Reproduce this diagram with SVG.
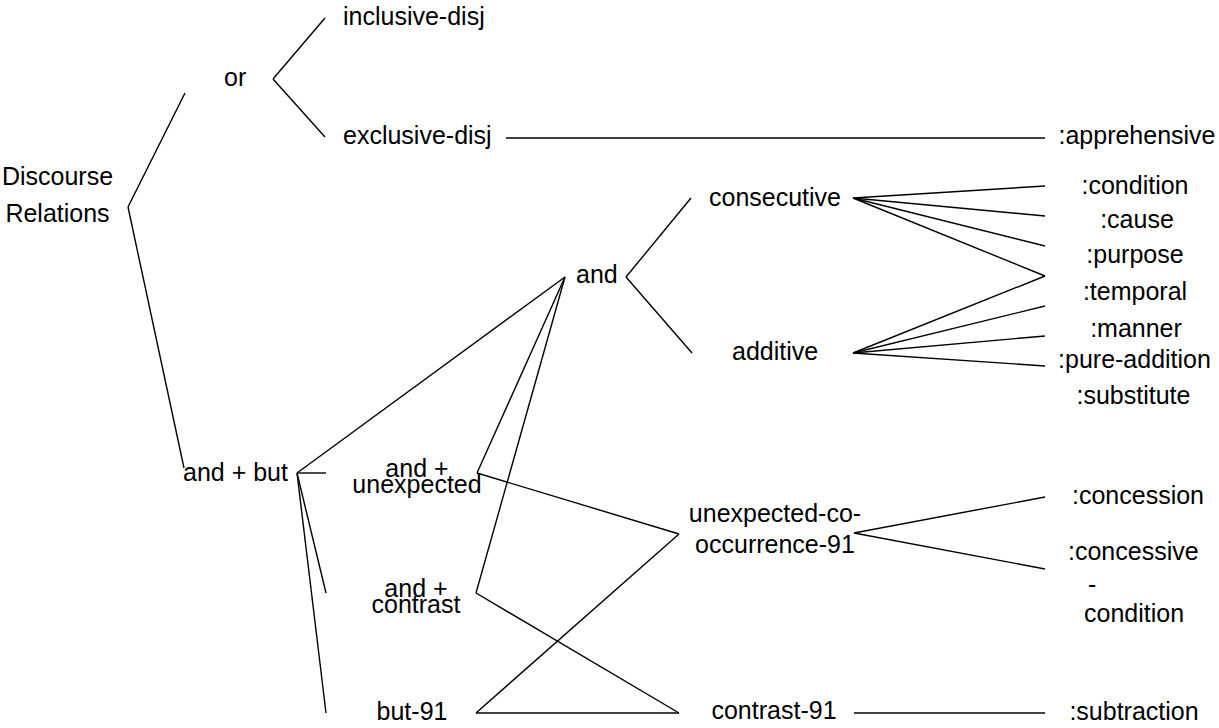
<svg xmlns="http://www.w3.org/2000/svg" width="1219" height="728" viewBox="0 0 1219 728">
<style>
text{font-family:"Liberation Sans",Arial,sans-serif;font-size:25px;fill:#000}
.m{text-anchor:middle}
#connectors line{stroke:#000;stroke-width:1.4;fill:none}
</style>
<rect width="1219" height="728" fill="#fff"/>
<g id="connectors">
<line x1="128" y1="207" x2="185" y2="93"/>
<line x1="128" y1="207" x2="184" y2="468"/>
<line x1="273" y1="79" x2="325" y2="18"/>
<line x1="273" y1="79" x2="325" y2="137"/>
<line x1="506" y1="138" x2="1045" y2="138"/>
<line x1="626" y1="277" x2="691" y2="198"/>
<line x1="626" y1="277" x2="692" y2="353"/>
<line x1="853" y1="198" x2="1045" y2="186"/>
<line x1="853" y1="198" x2="1045" y2="216"/>
<line x1="853" y1="198" x2="1045" y2="246"/>
<line x1="853" y1="198" x2="1045" y2="276"/>
<line x1="853" y1="353" x2="1045" y2="276"/>
<line x1="853" y1="353" x2="1045" y2="306"/>
<line x1="853" y1="353" x2="1045" y2="336"/>
<line x1="853" y1="353" x2="1045" y2="366"/>
<line x1="565" y1="277" x2="297" y2="473"/>
<line x1="565" y1="277" x2="477" y2="473"/>
<line x1="565" y1="277" x2="476" y2="593"/>
<line x1="297" y1="473" x2="326" y2="473"/>
<line x1="297" y1="473" x2="326" y2="593"/>
<line x1="297" y1="473" x2="326" y2="713"/>
<line x1="477" y1="473" x2="679" y2="534"/>
<line x1="476" y1="713" x2="679" y2="534"/>
<line x1="476" y1="593" x2="679" y2="713"/>
<line x1="476" y1="713" x2="679" y2="713"/>
<line x1="854" y1="533" x2="1045" y2="497"/>
<line x1="854" y1="533" x2="1045" y2="569"/>
<line x1="854" y1="713" x2="1045" y2="713"/>
</g>
<g id="discourse-relations"><text class="m" x="57.5" y="185">Discourse</text><text class="m" x="57.5" y="222">Relations</text></g>
<g id="or"><text x="224" y="86">or</text></g>
<g id="inclusive-disj"><text x="343" y="25">inclusive-disj</text></g>
<g id="exclusive-disj"><text x="343" y="144">exclusive-disj</text></g>
<g id="apprehensive"><text class="m" x="1137" y="144">:apprehensive</text></g>
<g id="and"><text x="576" y="283">and</text></g>
<g id="consecutive"><text x="709" y="206">consecutive</text></g>
<g id="additive"><text x="732" y="360">additive</text></g>
<g id="condition"><text class="m" x="1135" y="194">:condition</text></g>
<g id="cause"><text class="m" x="1137" y="228">:cause</text></g>
<g id="purpose"><text class="m" x="1135" y="263">:purpose</text></g>
<g id="temporal"><text class="m" x="1135" y="300">:temporal</text></g>
<g id="manner"><text class="m" x="1136" y="337">:manner</text></g>
<g id="pure-addition"><text class="m" x="1134.5" y="368">:pure-addition</text></g>
<g id="substitute"><text class="m" x="1133.5" y="404">:substitute</text></g>
<g id="and-but"><text x="183" y="481">and + but</text></g>
<g id="and-unexpected"><text class="m" x="417" y="477">and +</text><text class="m" x="417" y="493">unexpected</text></g>
<g id="and-contrast"><text class="m" x="416" y="597">and +</text><text class="m" x="416" y="613">contrast</text></g>
<g id="but-91"><text class="m" x="412" y="720">but-91</text></g>
<g id="unexpected-co-occurrence-91"><text class="m" x="775" y="522">unexpected-co-</text><text class="m" x="775" y="553">occurrence-91</text></g>
<g id="contrast-91"><text class="m" x="774" y="719">contrast-91</text></g>
<g id="concession"><text class="m" x="1138" y="504">:concession</text></g>
<g id="concessive-condition"><text x="1068" y="560">:concessive</text><text x="1088" y="593">-</text><text x="1084" y="622">condition</text></g>
<g id="subtraction"><text class="m" x="1134" y="720">:subtraction</text></g>
</svg>
